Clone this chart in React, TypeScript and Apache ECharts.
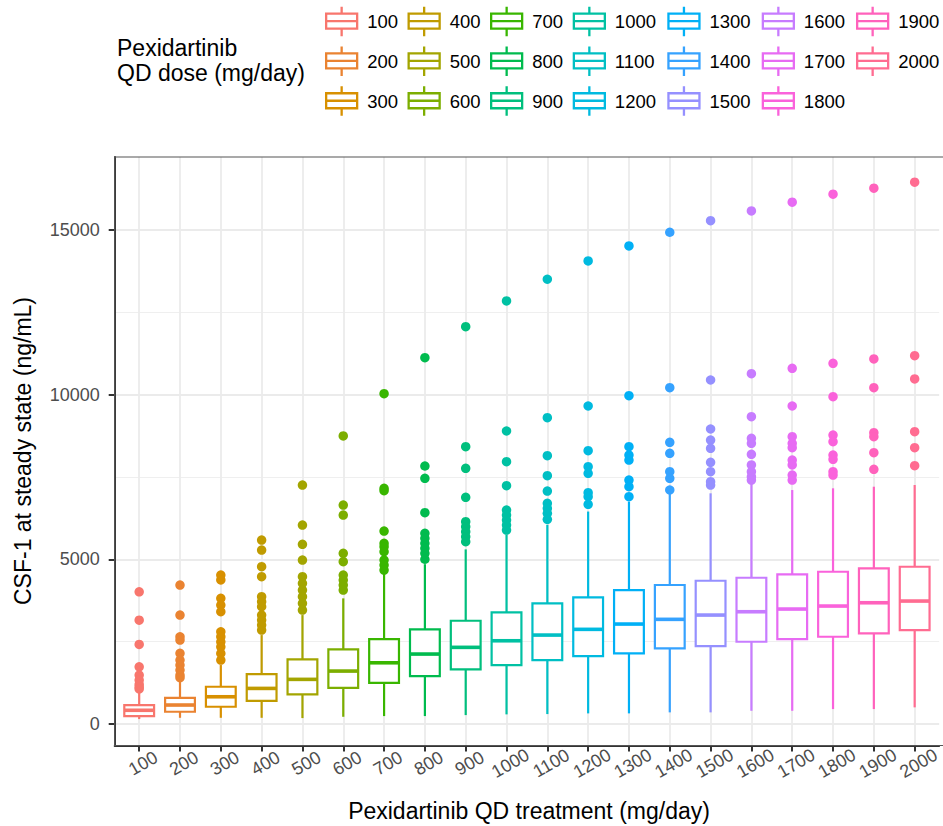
import React, { useEffect, useRef } from 'react';
import * as echarts from 'echarts';

const doses = ['100', '200', '300', '400', '500', '600', '700', '800', '900', '1000',
  '1100', '1200', '1300', '1400', '1500', '1600', '1700', '1800', '1900', '2000'];

const colors = ['#F8766D', '#EA8331', '#D89000', '#C09B00', '#A3A500', '#7CAE00', '#39B600',
  '#00BB4E', '#00BF7D', '#00C1A3', '#00BFC4', '#00BAE0', '#00B0F6', '#35A2FF', '#9590FF',
  '#C77CFF', '#E76BF3', '#FA62DB', '#FF62BC', '#FF6C91'];

const whiskerLow = [143, 182, 182, 182, 173, 213, 234, 234, 264, 286, 295, 316, 316, 347, 347, 395, 395, 447, 447, 499];
const q1 = [230, 365, 517, 699, 894, 1094, 1246, 1450, 1654, 1784, 1936, 2058, 2140, 2292, 2362, 2493, 2575, 2645, 2748, 2848];
const median = [410, 570, 821, 1075, 1350, 1602, 1854, 2119, 2323, 2523, 2696, 2870, 3031, 3174, 3304, 3405, 3487, 3578, 3678, 3730];
const q3 = [568, 790, 1125, 1511, 1958, 2262, 2575, 2870, 3131, 3387, 3660, 3843, 4064, 4217, 4347, 4438, 4542, 4621, 4724, 4773];
const whiskerHigh = [1000, 1300, 1785, 2696, 3304, 3812, 4572, 4850, 5300, 5750, 6050, 6450, 6750, 7000, 7004, 7300, 7104, 7156, 7205, 7256];

const outliers = [
  [4010, 3150, 2410, 1730, 1480, 1330, 1200, 1120, 1060],
  [4216, 3305, 2645, 2544, 2140, 1936, 1784, 1632, 1480, 1400],
  [4520, 4370, 3812, 3608, 3405, 2797, 2645, 2493, 2341, 2139, 1936],
  [5584, 5280, 4773, 4469, 3861, 3709, 3557, 3305, 3152, 3000, 2848],
  [7256, 6040, 5454, 4977, 4469, 4268, 4064, 3861, 3660, 3457],
  [8747, 6648, 6344, 5180, 4925, 4520, 4368, 4216, 4064],
  [10032, 7156, 7083, 5858, 5484, 5381, 5229, 4976, 4824, 4672],
  [11126, 7834, 7460, 6414, 5788, 5636, 5484, 5332, 5180, 5000],
  [12069, 8421, 7764, 6882, 6141, 5989, 5837, 5685, 5533],
  [12850, 8898, 7965, 7235, 6496, 6344, 6192, 6040, 5888],
  [13510, 9302, 8147, 7539, 7074, 6700, 6548, 6396, 6214],
  [14066, 9658, 8300, 7813, 7612, 7022, 6901, 6670],
  [14522, 9971, 8421, 8168, 8016, 7408, 7205, 6901],
  [14938, 10214, 8554, 8220, 7661, 7460, 7105],
  [15291, 10448, 8959, 8624, 8372, 7946, 7661, 7357, 7256],
  [15586, 10640, 9333, 8676, 8524, 8190, 7865, 7661, 7509, 7408],
  [15851, 10804, 9658, 8725, 8524, 8391, 8016, 7865, 7560, 7408],
  [16094, 10956, 9941, 8776, 8573, 8168, 8036, 7661, 7560],
  [16276, 11087, 10214, 8846, 8725, 8238, 7734],
  [16458, 11187, 10479, 8877, 8391, 7845],
];

const yMajorTicks = [0, 5000, 10000, 15000];
const yMinorTicks = [2500, 7500, 12500];

const FONT = '"Liberation Sans", Arial, sans-serif';
const ICON = 'path://M15.5,0V7M0,7H31V22H0ZM0,14.5H31M15.5,22V29.5';
const legendLefts = [325, 407.5, 490, 572.7, 667.3, 761.7, 856];

export default function App() {
  const ref = useRef<HTMLDivElement>(null);

  useEffect(() => {
    const chart = echarts.init(ref.current!, null, { renderer: 'svg' });
    const xPositions = doses.map((_, i) => i + 1);

    const boxSeries = doses.map((d, i) => ({
      type: 'custom',
      name: d,
      xAxisIndex: 0,
      yAxisIndex: 0,
      clip: false,
      z: 3,
      encode: { x: 0, y: [1, 2, 3, 4, 5] },
      data: [[i + 1, whiskerLow[i], q1[i], median[i], q3[i], whiskerHigh[i]]],
      renderItem: (params: any, api: any) => {
        const x = api.value(0);
        const pMin = api.coord([x, api.value(1)]);
        const pQ1 = api.coord([x, api.value(2)]);
        const pMed = api.coord([x, api.value(3)]);
        const pQ3 = api.coord([x, api.value(4)]);
        const pMax = api.coord([x, api.value(5)]);
        const half = api.size([0.73, 0])[0] / 2;
        const cx = pMed[0];
        const c = colors[i];
        return {
          type: 'group',
          children: [
            { type: 'line', shape: { x1: cx, y1: pMin[1], x2: cx, y2: pQ1[1] }, style: { stroke: c, lineWidth: 2.2 } },
            { type: 'line', shape: { x1: cx, y1: pQ3[1], x2: cx, y2: pMax[1] }, style: { stroke: c, lineWidth: 2.2 } },
            { type: 'rect', shape: { x: cx - half, y: pQ3[1], width: half * 2, height: pQ1[1] - pQ3[1] }, style: { fill: '#fff', stroke: c, lineWidth: 2.2 } },
            { type: 'line', shape: { x1: cx - half, y1: pMed[1], x2: cx + half, y2: pMed[1] }, style: { stroke: c, lineWidth: 3.6 } },
          ],
        };
      },
    }));

    const outlierSeries = doses.map((d, i) => ({
      type: 'scatter',
      name: d,
      xAxisIndex: 0,
      yAxisIndex: 0,
      z: 4,
      symbolSize: 9.5,
      itemStyle: { color: colors[i], opacity: 1 },
      data: outliers[i].map((v) => [i + 1, v]),
    }));

    const legends = legendLefts.map((left, ci) => ({
      orient: 'vertical',
      left,
      top: 5.5,
      padding: 0,
      itemWidth: 31,
      itemHeight: 30,
      itemGap: 8,
      selectedMode: false,
      textStyle: { fontSize: 18.5, color: '#000', fontFamily: FONT, padding: [0, 0, 0, 5] },
      data: doses.slice(ci * 3, ci * 3 + 3).map((name, k) => ({
        name,
        icon: ICON,
        itemStyle: { color: '#fff', borderColor: colors[ci * 3 + k], borderWidth: 2.3 },
      })),
    }));

    const option: any = {
      animation: false,
      backgroundColor: '#fff',
      title: {
        text: 'Pexidartinib\nQD dose (mg/day)',
        left: 117,
        top: 35,
        padding: 0,
        textStyle: { fontSize: 23, fontWeight: 'normal', color: '#000', lineHeight: 25, fontFamily: FONT },
      },
      legend: legends,
      grid: { left: 114.7, right: 0, top: 157, bottom: 80.5, containLabel: false },
      xAxis: [{
        type: 'value',
        min: 0.4,
        max: 20.6,
        axisLine: { show: true, onZero: false, lineStyle: { color: '#333', width: 2 } },
        axisTick: { show: true, length: 6, customValues: xPositions, lineStyle: { color: '#333', width: 2 } },
        axisLabel: {
          customValues: xPositions,
          formatter: (v: number) => doses[Math.round(v) - 1] ?? '',
          rotate: 30,
          align: 'center',
          verticalAlign: 'middle',
          margin: 20,
          padding: [0, 0, 0, 9],
          fontSize: 18,
          color: '#4D4D4D',
          fontFamily: FONT,
        },
        splitLine: { show: true, lineStyle: { color: '#EBEBEB', width: 1.8 } },
      }],
      yAxis: [{
        type: 'value',
        min: -660,
        max: 17225,
        axisLine: { show: true, onZero: false, lineStyle: { color: '#333', width: 2 } },
        axisTick: { show: true, length: 6, customValues: yMajorTicks, lineStyle: { color: '#333', width: 2 } },
        axisLabel: {
          customValues: yMajorTicks,
          formatter: (v: number) => String(v),
          margin: 15,
          fontSize: 18,
          color: '#4D4D4D',
          fontFamily: FONT,
        },
        splitLine: { show: true, lineStyle: { color: '#EBEBEB', width: 1.8 } },
      }, {
        type: 'value',
        min: -660,
        max: 17225,
        position: 'left',
        axisLine: { show: false },
        axisTick: { show: false, customValues: yMinorTicks },
        axisLabel: { show: false, customValues: yMinorTicks },
        splitLine: { show: true, lineStyle: { color: '#EFEFEF', width: 1 } },
      }],
      graphic: [
        {
          type: 'rect',
          z: 100,
          silent: true,
          shape: { x: 114.7, y: 157, width: 829, height: 588.5 },
          style: { fill: 'none', stroke: '#555', lineWidth: 1.2 },
        },
        {
          type: 'text',
          x: 529,
          y: 811,
          style: { text: 'Pexidartinib QD treatment (mg/day)', fontSize: 23, fill: '#000', fontFamily: FONT, align: 'center', verticalAlign: 'middle' },
        },
        {
          type: 'text',
          x: 23,
          y: 451,
          rotation: Math.PI / 2,
          style: { text: 'CSF-1 at steady state (ng/mL)', fontSize: 23, fill: '#000', fontFamily: FONT, align: 'center', verticalAlign: 'middle' },
        },
      ],
      series: [...boxSeries, ...outlierSeries],
    };

    chart.setOption(option);
    return () => chart.dispose();
  }, []);

  return (
    <div
      ref={ref}
      style={{ position: 'fixed', left: 0, top: 0, width: 943, height: 826, background: '#fff' }}
    />
  );
}
